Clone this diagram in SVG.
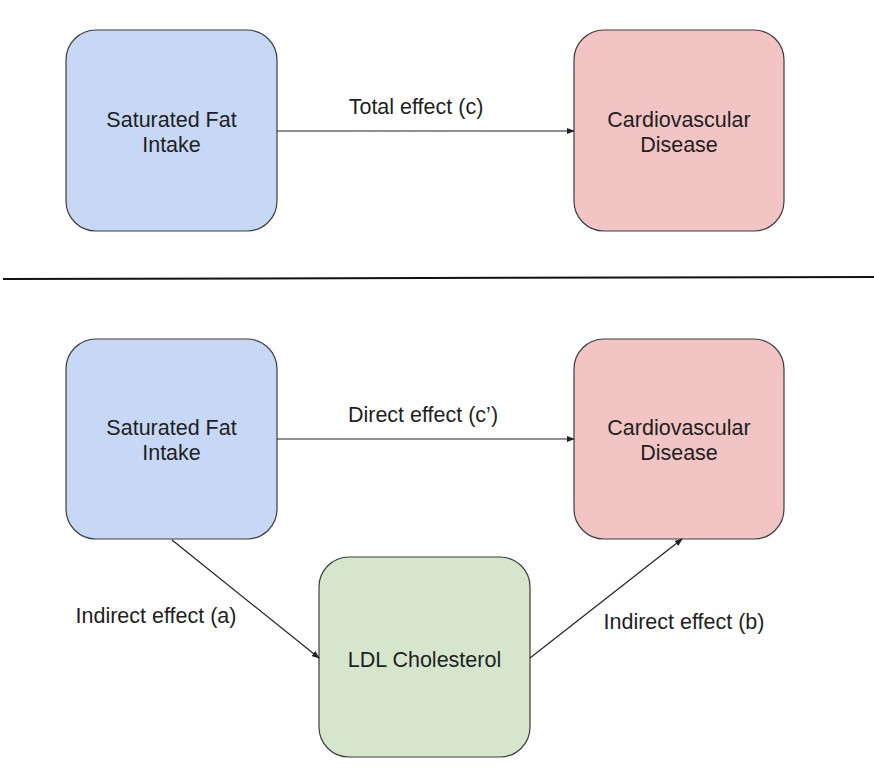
<svg xmlns="http://www.w3.org/2000/svg" width="874" height="776" viewBox="0 0 874 776">
<defs>
<style>
.box{stroke:#3c3c3c;stroke-width:1.2}
.blue{fill:#c6d8f5}
.red{fill:#f2c4c4}
.green{fill:#d5e6cd}
text{font-family:"Liberation Sans",Arial,sans-serif;font-size:21.5px;fill:#1f1f1f}
.c{text-anchor:middle}
.con{stroke:#222;stroke-width:1.2;fill:none;marker-end:url(#ah)}
</style>
<marker id="ah" viewBox="0 0 10 10" refX="9" refY="5" markerWidth="8" markerHeight="8" markerUnits="userSpaceOnUse" orient="auto">
<path d="M0,1 L10,5 L0,9 Z" fill="#222"/>
</marker>
</defs>
<rect width="874" height="776" fill="#fff"/>
<g id="n-fat-top"><rect class="box blue" x="66" y="30" width="211" height="201" rx="30"/><text class="c" x="171.5" y="127">Saturated Fat</text><text class="c" x="171.5" y="152">Intake</text></g>
<g id="n-cvd-top"><rect class="box red" x="574" y="30" width="210" height="201" rx="30"/><text class="c" x="679" y="127">Cardiovascular</text><text class="c" x="679" y="152">Disease</text></g>
<g id="n-fat-bot"><rect class="box blue" x="66" y="339" width="211" height="200" rx="30"/><text class="c" x="171.5" y="435">Saturated Fat</text><text class="c" x="171.5" y="460">Intake</text></g>
<g id="n-cvd-bot"><rect class="box red" x="574" y="339" width="210" height="200" rx="30"/><text class="c" x="679" y="435">Cardiovascular</text><text class="c" x="679" y="460">Disease</text></g>
<g id="n-ldl"><rect class="box green" x="319" y="557" width="211" height="200" rx="30"/><text class="c" x="424.5" y="667">LDL Cholesterol</text></g>
<g id="connectors">
<line class="con" x1="277" y1="131" x2="574" y2="131"/>
<line class="con" x1="277" y1="439" x2="574" y2="439"/>
<line class="con" x1="172" y1="540" x2="319" y2="658"/>
<line class="con" x1="530" y1="658" x2="682" y2="539"/>
<line x1="3" y1="279" x2="874" y2="277" stroke="#111" stroke-width="2"/>
</g>
<g id="labels">
<text class="c" x="416" y="114">Total effect (c)</text>
<text class="c" x="423" y="422">Direct effect (c’)</text>
<text class="c" x="156" y="623">Indirect effect (a)</text>
<text class="c" x="684" y="629">Indirect effect (b)</text>
</g>
</svg>
